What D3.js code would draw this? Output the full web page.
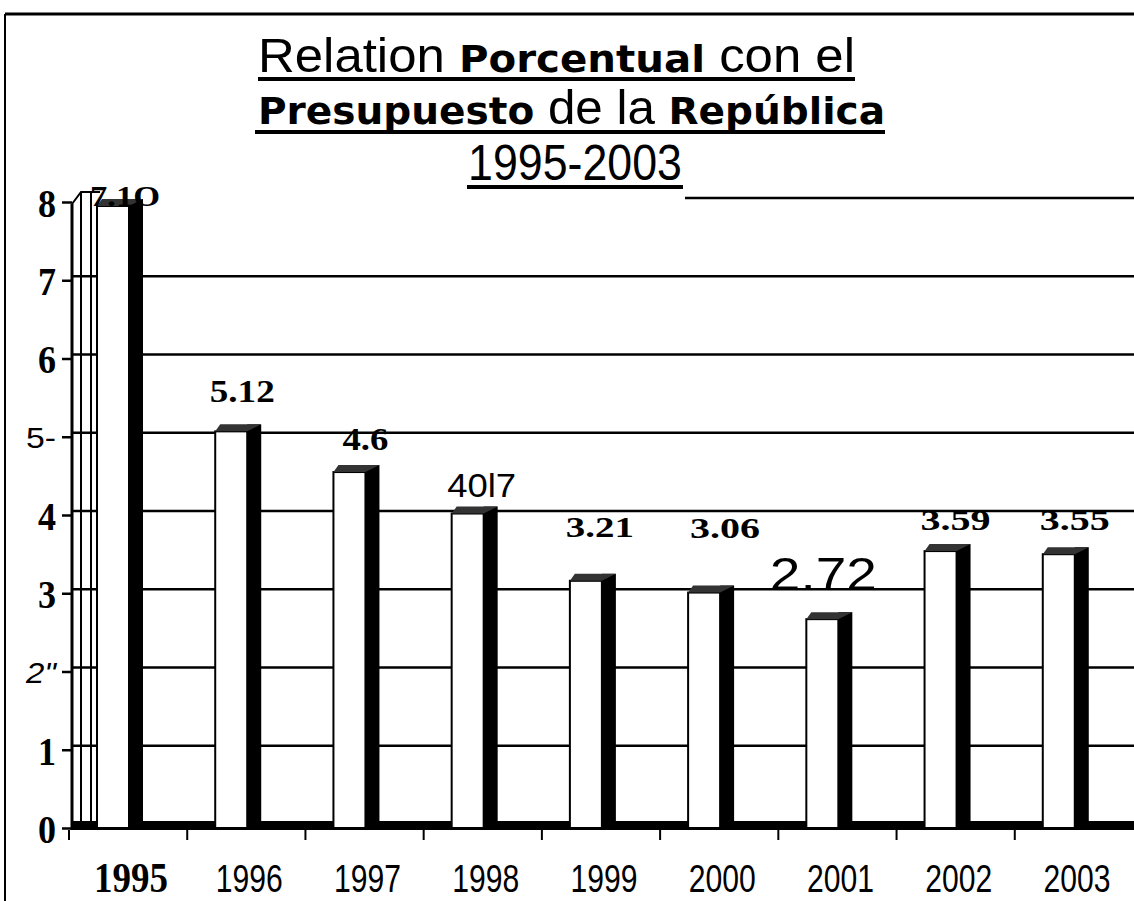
<!DOCTYPE html>
<html>
<head>
<meta charset="utf-8">
<script src="https://cdn.jsdelivr.net/npm/d3@7"></script>
<style>
  body { margin: 0; background: #fff; }
  svg { display: block; }
</style>
</head>
<body>
<div id="chart"></div>
<script>
// data
var years = ['1995', '1996', '1997', '1998', '1999', '2000', '2001', '2002', '2003'];
var values = [8.0, 5.12, 4.6, 4.07, 3.21, 3.06, 2.72, 3.59, 3.55];
var valueLabels = ['7.1O', '5.12', '4.6', '40l7', '3.21', '3.06', '2.72', '3.59', '3.55'];
var yTicks = [0, 1, 2, 3, 4, 5, 6, 7, 8];
var yTickLabels = ['0', '1', '2"', '3', '4', '5-', '6', '7', '8'];

var width = 1134, height = 901;
var base = 828, left = 72, right = 1136;

var svg = d3.select('#chart').append('svg')
  .attr('width', width)
  .attr('height', height);

var xScale = d3.scaleBand().domain(years).range([left, right]);
var yScale = d3.scaleLinear().domain([0, 8]).range([base, 202]);

// outer frame
svg.append('line').attr('x1', 5).attr('x2', 5).attr('y1', 14).attr('y2', 901)
  .attr('stroke', '#000').attr('stroke-width', 2);
svg.append('line').attr('x1', 5).attr('x2', 1134).attr('y1', 14).attr('y2', 14)
  .attr('stroke', '#000').attr('stroke-width', 3);

// gridlines (behind the bars)
svg.append('g').selectAll('line')
  .data(yTicks.filter(function(d){ return d > 0; }))
  .enter().append('line')
  .attr('x1', function(d){ return d === 8 ? 685 : left; })
  .attr('x2', width)
  .attr('y1', function(d){ return yScale(d) - 4; })
  .attr('y2', function(d){ return yScale(d) - 4; })
  .attr('stroke', '#000')
  .attr('stroke-width', 2.5);

// back wall lines next to the axis
[81, 91].forEach(function(x){
  svg.append('line').attr('x1', x).attr('x2', x)
    .attr('y1', yScale(8) - 10).attr('y2', base)
    .attr('stroke', '#000').attr('stroke-width', 2);
});
svg.append('path')
  .attr('d', 'M' + (left) + ',' + (yScale(8) + 2) + 'L' + 81 + ',' + (yScale(8) - 10) + 'H100')
  .attr('fill', 'none').attr('stroke', '#000').attr('stroke-width', 2);

// floor
svg.append('rect')
  .attr('x', left).attr('y', base - 7)
  .attr('width', width - left).attr('height', 9)
  .attr('fill', '#000');

// bars: white front, black side, dark cap
var barOff = 25, frontW = 32, sideW = 14;
var bars = svg.append('g').selectAll('g')
  .data(values)
  .enter().append('g');

bars.append('rect')
  .attr('x', function(d, i){ return xScale(years[i]) + barOff + frontW; })
  .attr('y', function(d){ return yScale(d) - 3; })
  .attr('width', sideW)
  .attr('height', function(d){ return base - yScale(d) + 3; })
  .attr('fill', '#000');

bars.append('rect')
  .attr('x', function(d, i){ return xScale(years[i]) + barOff; })
  .attr('y', function(d){ return yScale(d) + 4; })
  .attr('width', frontW)
  .attr('height', function(d){ return base - yScale(d) - 4; })
  .attr('fill', '#fff')
  .attr('stroke', '#000')
  .attr('stroke-width', 2);

bars.append('path')
  .attr('d', function(d, i){
    var x0 = xScale(years[i]) + barOff, y0 = yScale(d);
    return 'M' + x0 + ',' + (y0 + 4) + 'L' + (x0 + 5) + ',' + (y0 - 3) +
      'L' + (x0 + frontW + sideW) + ',' + (y0 - 3) + 'L' + (x0 + frontW) + ',' + (y0 + 4) + 'Z';
  })
  .attr('fill', '#333');

// value labels, placed relative to each bar top
var serif = 'Liberation Serif', sans = 'Liberation Sans';
var labelStyle = [
  { dx: 53, dy: 4, size: 30, len: 70, font: serif, weight: 'bold' },
  { dx: 52, dy: -25, size: 32, len: 65, font: serif, weight: 'bold' },
  { dx: 57, dy: -18, size: 32, len: 46, font: serif, weight: 'bold' },
  { dx: 55, dy: -13, size: 34, len: 69, font: sans, weight: 'normal' },
  { dx: 55, dy: -40, size: 30, len: 68, font: serif, weight: 'bold' },
  { dx: 62, dy: -51, size: 30, len: 70, font: serif, weight: 'bold' },
  { dx: 42, dy: -25, size: 46, len: 107, font: sans, weight: 'normal' },
  { dx: 56, dy: -17, size: 30, len: 70, font: serif, weight: 'bold' },
  { dx: 57, dy: -20, size: 30, len: 70, font: serif, weight: 'bold' }
];
svg.append('g').selectAll('text')
  .data(values)
  .enter().append('text')
  .attr('x', function(d, i){ return xScale(years[i]) + labelStyle[i].dx; })
  .attr('y', function(d, i){ return yScale(d) + labelStyle[i].dy; })
  .attr('text-anchor', 'middle')
  .attr('textLength', function(d, i){ return labelStyle[i].len; })
  .attr('lengthAdjust', 'spacingAndGlyphs')
  .style('font-family', function(d, i){ return labelStyle[i].font; })
  .style('font-weight', function(d, i){ return labelStyle[i].weight; })
  .style('font-size', function(d, i){ return labelStyle[i].size + 'px'; })
  .text(function(d, i){ return valueLabels[i]; });

// y axis
var yAxis = d3.axisLeft(yScale)
  .tickValues(yTicks)
  .tickSize(10)
  .tickFormat(function(d, i){ return yTickLabels[i]; });
var gy = svg.append('g')
  .attr('transform', 'translate(' + left + ',0)')
  .call(yAxis);
gy.select('.domain').attr('stroke-width', 3).attr('d', 'M0,' + (yScale(8) + 2) + 'V' + (base + 2));
gy.selectAll('.tick line').attr('stroke-width', 2.5);
gy.selectAll('.tick text')
  .attr('x', -16)
  .attr('dy', '0.36em')
  .attr('textLength', function(d){ return (d === 5 || d === 2) ? 30 : 18; })
  .attr('lengthAdjust', 'spacingAndGlyphs')
  .style('font-size', function(d){ return (d === 5 || d === 2) ? '30px' : '40px'; })
  .style('font-family', function(d){ return (d === 5 || d === 2) ? sans : serif; })
  .style('font-weight', function(d){ return (d === 5 || d === 2) ? 'normal' : 'bold'; })
  .style('font-style', function(d){ return d === 2 ? 'italic' : 'normal'; })
  .attr('fill', '#000');

// x axis: labels centred in bands, tick marks at band edges
var xAxis = d3.axisBottom(xScale).tickSize(0).tickPadding(0);
var gx = svg.append('g')
  .attr('transform', 'translate(0,' + base + ')')
  .call(xAxis);
gx.select('.domain').remove();
gx.selectAll('.tick text')
  .attr('y', 64)
  .attr('dy', 0)
  .attr('textLength', function(d){ return d === '1995' ? 74 : 67; })
  .attr('lengthAdjust', 'spacingAndGlyphs')
  .style('font-size', function(d){ return d === '1995' ? '42px' : '38px'; })
  .style('font-family', function(d){ return d === '1995' ? serif : sans; })
  .style('font-weight', function(d){ return d === '1995' ? 'bold' : 'normal'; })
  .attr('fill', '#000');

svg.append('g').selectAll('line')
  .data(years)
  .enter().append('line')
  .attr('x1', function(d){ return xScale(d) - 3; })
  .attr('x2', function(d){ return xScale(d) - 3; })
  .attr('y1', base + 2)
  .attr('y2', base + 12)
  .attr('stroke', '#000')
  .attr('stroke-width', 2);

// title
var heavy = 'DejaVu Sans';
var title = svg.append('g').style('font-family', sans).attr('fill', '#000');
var t1 = title.append('text').attr('x', 258).attr('y', 72)
  .attr('textLength', 597).attr('lengthAdjust', 'spacingAndGlyphs').style('font-size', '48px');
t1.append('tspan').text('Relation ');
t1.append('tspan').style('font-weight', 'bold').style('font-family', heavy).style('font-size', '38px').text('Porcentual');
t1.append('tspan').text(' con el');
var t2 = title.append('text').attr('x', 258).attr('y', 124)
  .attr('textLength', 627).attr('lengthAdjust', 'spacingAndGlyphs').style('font-size', '48px');
t2.append('tspan').style('font-weight', 'bold').style('font-family', heavy).style('font-size', '38px').text('Presupuesto');
t2.append('tspan').text(' de la ');
t2.append('tspan').style('font-weight', 'bold').style('font-family', heavy).style('font-size', '38px').text('República');
title.append('text').attr('x', 468).attr('y', 180)
  .attr('textLength', 214).attr('lengthAdjust', 'spacingAndGlyphs')
  .style('font-size', '50px').text('1995-2003');

[[258, 855, 79], [255, 885, 132], [467, 683, 187]].forEach(function(u){
  svg.append('line').attr('x1', u[0]).attr('x2', u[1]).attr('y1', u[2]).attr('y2', u[2])
    .attr('stroke', '#000').attr('stroke-width', 4);
});
</script>
</body>
</html>
